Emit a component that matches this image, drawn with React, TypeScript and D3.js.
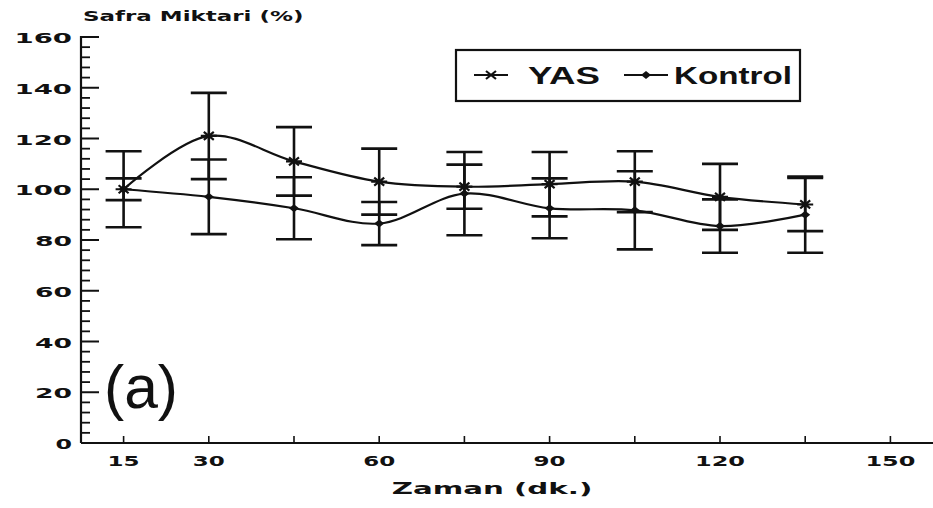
import React from 'react';
import * as d3 from 'd3';

const minutes = [15, 30, 45, 60, 75, 90, 105, 120, 135];
const yasMean = [100, 121, 111, 103, 101, 102, 103, 97, 94];
const yasErr = [15, 17, 13.5, 13, 8.7, 12.7, 12, 13, 10.5];
const kontrolMean = [100, 97, 92.5, 86.5, 98.3, 92.5, 91.7, 85.5, 90];
const kontrolErr = [4.3, 14.7, 12.2, 8.5, 16.4, 11.8, 15.4, 10.5, 15];

const xTicks = [15, 30, 45, 60, 75, 90, 105, 120, 135, 150];
const xLabels = ['15', '30', '60', '90', '120', '150'];
const yTicks = [0, 20, 40, 60, 80, 100, 120, 140, 160];

const layout = {width: 933, height: 508, left: 81, right: 933, top: 37, bottom: 443};

const wideFont = '"DejaVu Sans", sans-serif';
const ink = '#111';

// label spread out like the wide typewriter-ish face in the scan
function WideText({x, y, text, perChar, anchor = 'start', size = 13}) {
  const len = text.length * perChar - 4;
  const x0 = anchor === 'end' ? x - len : anchor === 'middle' ? x - len / 2 : x;
  return (
    <text x={x0} y={y} fontFamily={wideFont} fontWeight="bold" fontSize={size}
          textLength={len} lengthAdjust="spacingAndGlyphs" fill={ink}>{text}</text>
  );
}

function Star({x, y}) {
  return (
    <path d={`M${x - 8},${y}H${x + 8}M${x - 5},${y - 4}L${x + 5},${y + 4}M${x - 5},${y + 4}L${x + 5},${y - 4}`}
          stroke={ink} strokeWidth={2.2} fill="none" />
  );
}

function Diamond({x, y}) {
  return <path d={`M${x - 5},${y}L${x},${y - 4}L${x + 5},${y}L${x},${y + 4}Z`} fill={ink} />;
}

export default function App() {
  const x = d3.scaleLinear().domain([7.5, 157.5]).range([layout.left, layout.right]);
  const y = d3.scaleLinear().domain([0, 160]).range([layout.bottom, layout.top]);

  const line = d3.line<number>()
    .x((d, i) => x(minutes[i]))
    .y(d => y(d))
    .curve(d3.curveCatmullRom.alpha(0.5));

  const minorY = d3.range(0, 161, 4).filter(v => v % 20 !== 0);

  const errBars = (means, errs, key) => means.map((m, i) => {
    const cx = x(minutes[i]);
    const hi = y(m + errs[i]);
    const lo = y(m - errs[i]);
    return (
      <g key={key + i} stroke={ink} strokeWidth={2.6}>
        <line x1={cx} x2={cx} y1={hi} y2={lo} />
        <line x1={cx - 18} x2={cx + 18} y1={hi} y2={hi} />
        <line x1={cx - 18} x2={cx + 18} y1={lo} y2={lo} />
      </g>
    );
  });

  return (
    <svg width={layout.width} height={layout.height}
         style={{position: 'absolute', left: 0, top: 0, background: '#fff'}}>
      <rect width={layout.width} height={layout.height} fill="#fff" />

      <WideText x={83} y={21} text="Safra Miktari (%)" perChar={13.2} size={14} />

      {/* y axis */}
      <line x1={layout.left} x2={layout.left} y1={y(160) - 1} y2={layout.bottom} stroke={ink} strokeWidth={2.2} />
      {yTicks.map(v => (
        <g key={'yt' + v}>
          <line x1={layout.left} x2={layout.left + 18} y1={y(v)} y2={y(v)} stroke={ink} strokeWidth={2} />
          <WideText x={72} y={y(v) + 6} text={String(v)} perChar={20.5} anchor="end" size={14} />
        </g>
      ))}
      {minorY.map(v => (
        <line key={'ym' + v} x1={layout.left} x2={layout.left + 9} y1={y(v)} y2={y(v)} stroke={ink} strokeWidth={1.8} />
      ))}

      {/* x axis */}
      <line x1={layout.left} x2={layout.right} y1={layout.bottom} y2={layout.bottom} stroke={ink} strokeWidth={2.2} />
      {xTicks.map(v => (
        <line key={'xt' + v} x1={x(v)} x2={x(v)} y1={layout.bottom} y2={layout.bottom - 7} stroke={ink} strokeWidth={1.6} />
      ))}
      {xLabels.map(s => (
        <WideText key={'xl' + s} x={x(+s)} y={466} text={s} perChar={18} anchor="middle" size={14} />
      ))}
      <WideText x={492} y={494} text="Zaman (dk.)" perChar={18.6} anchor="middle" size={15} />

      {/* error bars */}
      {errBars(yasMean, yasErr, 'ey')}
      {errBars(kontrolMean, kontrolErr, 'ek')}

      {/* series */}
      <path d={line(yasMean)} fill="none" stroke={ink} strokeWidth={2.2} />
      <path d={line(kontrolMean)} fill="none" stroke={ink} strokeWidth={2.2} />
      {yasMean.map((v, i) => <Star key={'s' + i} x={x(minutes[i])} y={y(v)} />)}
      {kontrolMean.map((v, i) => <Diamond key={'d' + i} x={x(minutes[i])} y={y(v)} />)}

      {/* legend */}
      <rect x={456} y={50} width={344} height={51} fill="#fff" stroke={ink} strokeWidth={2.2} />
      <line x1={474} x2={508} y1={75} y2={75} stroke={ink} strokeWidth={2} />
      <Star x={491} y={75} />
      <text x={528} y={84} fontFamily="'Liberation Sans', Arial, sans-serif" fontWeight="bold" fontSize={24}
            textLength={72} lengthAdjust="spacingAndGlyphs" fill={ink}>YAS</text>
      <line x1={624} x2={668} y1={75} y2={75} stroke={ink} strokeWidth={2} />
      <Diamond x={646} y={75} />
      <text x={674} y={84} fontFamily="'Liberation Sans', Arial, sans-serif" fontWeight="bold" fontSize={24}
            textLength={118} lengthAdjust="spacingAndGlyphs" fill={ink}>Kontrol</text>

      {/* panel tag */}
      <text x={104} y={408} fontFamily="'Liberation Sans', Arial, sans-serif" fontSize={62}
            textLength={74} lengthAdjust="spacingAndGlyphs" fill={ink}>(a)</text>
    </svg>
  );
}
